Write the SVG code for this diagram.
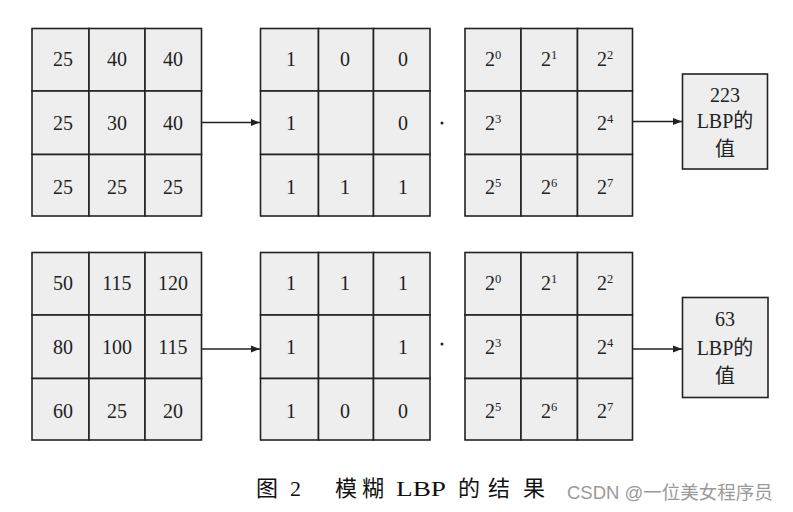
<svg xmlns="http://www.w3.org/2000/svg" width="793" height="512" viewBox="0 0 793 512">
<defs>
<style>
.c{fill:#eeeeee;stroke:#222;stroke-width:1.6}
.t{font-family:"Liberation Serif","Noto Sans CJK SC",serif;font-size:20px;fill:#222;text-anchor:middle}
.s{font-size:12.5px}
.e{stroke:#222;stroke-width:1.5;fill:none}
.cap{font-family:"Liberation Serif","Noto Sans CJK SC",serif;font-size:22px;fill:#111}
.wm{font-family:"Liberation Sans","Noto Sans CJK SC",sans-serif;font-size:18.5px;fill:#9a9a9a}
</style>
<marker id="ah" markerWidth="10" markerHeight="8" refX="9" refY="4" orient="auto" markerUnits="userSpaceOnUse">
<path d="M0,0.5 L9,4 L0,7.5 Z" fill="#222"/>
</marker>
</defs>
<rect width="793" height="512" fill="#fff"/>

<g id="grid-input-1">
<rect class="c" x="32" y="28.5" width="57" height="62.5"/><rect class="c" x="89" y="28.5" width="56" height="62.5"/><rect class="c" x="145" y="28.5" width="56.5" height="62.5"/>
<rect class="c" x="32" y="91" width="57" height="63.5"/><rect class="c" x="89" y="91" width="56" height="63.5"/><rect class="c" x="145" y="91" width="56.5" height="63.5"/>
<rect class="c" x="32" y="154.5" width="57" height="61.5"/><rect class="c" x="89" y="154.5" width="56" height="61.5"/><rect class="c" x="145" y="154.5" width="56.5" height="61.5"/>
<text class="t" x="63" y="66">25</text><text class="t" x="117" y="66">40</text><text class="t" x="173" y="66">40</text>
<text class="t" x="63" y="130">25</text><text class="t" x="117" y="130">30</text><text class="t" x="173" y="130">40</text>
<text class="t" x="63" y="194">25</text><text class="t" x="117" y="194">25</text><text class="t" x="173" y="194">25</text>
</g>

<g id="grid-binary-1">
<rect class="c" x="260.5" y="28.5" width="58" height="62.5"/><rect class="c" x="318.5" y="28.5" width="55" height="62.5"/><rect class="c" x="373.5" y="28.5" width="56.5" height="62.5"/>
<rect class="c" x="260.5" y="91" width="58" height="63.5"/><rect class="c" x="318.5" y="91" width="55" height="63.5"/><rect class="c" x="373.5" y="91" width="56.5" height="63.5"/>
<rect class="c" x="260.5" y="154.5" width="58" height="61.5"/><rect class="c" x="318.5" y="154.5" width="55" height="61.5"/><rect class="c" x="373.5" y="154.5" width="56.5" height="61.5"/>
<text class="t" x="291" y="66">1</text><text class="t" x="345" y="66">0</text><text class="t" x="403" y="66">0</text>
<text class="t" x="291" y="130">1</text><text class="t" x="403" y="130">0</text>
<text class="t" x="291" y="194">1</text><text class="t" x="345" y="194">1</text><text class="t" x="403" y="194">1</text>
</g>

<g id="dot-1"><circle cx="442" cy="123" r="1.5" fill="#222"/></g>

<g id="grid-weights-1">
<rect class="c" x="465" y="28.5" width="56" height="62.5"/><rect class="c" x="521" y="28.5" width="56.5" height="62.5"/><rect class="c" x="577.5" y="28.5" width="55" height="62.5"/>
<rect class="c" x="465" y="91" width="56" height="63.5"/><rect class="c" x="521" y="91" width="56.5" height="63.5"/><rect class="c" x="577.5" y="91" width="55" height="63.5"/>
<rect class="c" x="465" y="154.5" width="56" height="61.5"/><rect class="c" x="521" y="154.5" width="56.5" height="61.5"/><rect class="c" x="577.5" y="154.5" width="55" height="61.5"/>
<text class="t" x="493" y="66">2<tspan class="s" dy="-7">0</tspan></text><text class="t" x="549" y="66">2<tspan class="s" dy="-7">1</tspan></text><text class="t" x="605" y="66">2<tspan class="s" dy="-7">2</tspan></text>
<text class="t" x="493" y="130">2<tspan class="s" dy="-7">3</tspan></text><text class="t" x="605" y="130">2<tspan class="s" dy="-7">4</tspan></text>
<text class="t" x="493" y="194">2<tspan class="s" dy="-7">5</tspan></text><text class="t" x="549" y="194">2<tspan class="s" dy="-7">6</tspan></text><text class="t" x="605" y="194">2<tspan class="s" dy="-7">7</tspan></text>
</g>

<g id="result-1">
<rect class="c" x="682.5" y="74" width="85" height="95"/>
<text class="t" x="725" y="101.5">223</text>
<text class="t" x="725" y="128">LBP的</text>
<text class="t" x="725" y="156">值</text>
</g>

<g id="grid-input-2">
<rect class="c" x="32" y="252.5" width="57" height="62.5"/><rect class="c" x="89" y="252.5" width="56" height="62.5"/><rect class="c" x="145" y="252.5" width="56.5" height="62.5"/>
<rect class="c" x="32" y="315" width="57" height="63.5"/><rect class="c" x="89" y="315" width="56" height="63.5"/><rect class="c" x="145" y="315" width="56.5" height="63.5"/>
<rect class="c" x="32" y="378.5" width="57" height="61.5"/><rect class="c" x="89" y="378.5" width="56" height="61.5"/><rect class="c" x="145" y="378.5" width="56.5" height="61.5"/>
<text class="t" x="63" y="290">50</text><text class="t" x="117" y="290">115</text><text class="t" x="173" y="290">120</text>
<text class="t" x="63" y="354">80</text><text class="t" x="117" y="354">100</text><text class="t" x="173" y="354">115</text>
<text class="t" x="63" y="418">60</text><text class="t" x="117" y="418">25</text><text class="t" x="173" y="418">20</text>
</g>

<g id="grid-binary-2">
<rect class="c" x="260.5" y="252.5" width="58" height="62.5"/><rect class="c" x="318.5" y="252.5" width="55" height="62.5"/><rect class="c" x="373.5" y="252.5" width="56.5" height="62.5"/>
<rect class="c" x="260.5" y="315" width="58" height="63.5"/><rect class="c" x="318.5" y="315" width="55" height="63.5"/><rect class="c" x="373.5" y="315" width="56.5" height="63.5"/>
<rect class="c" x="260.5" y="378.5" width="58" height="61.5"/><rect class="c" x="318.5" y="378.5" width="55" height="61.5"/><rect class="c" x="373.5" y="378.5" width="56.5" height="61.5"/>
<text class="t" x="291" y="290">1</text><text class="t" x="345" y="290">1</text><text class="t" x="403" y="290">1</text>
<text class="t" x="291" y="354">1</text><text class="t" x="403" y="354">1</text>
<text class="t" x="291" y="418">1</text><text class="t" x="345" y="418">0</text><text class="t" x="403" y="418">0</text>
</g>

<g id="dot-2"><circle cx="442" cy="344" r="1.5" fill="#222"/></g>

<g id="grid-weights-2">
<rect class="c" x="465" y="252.5" width="56" height="62.5"/><rect class="c" x="521" y="252.5" width="56.5" height="62.5"/><rect class="c" x="577.5" y="252.5" width="55" height="62.5"/>
<rect class="c" x="465" y="315" width="56" height="63.5"/><rect class="c" x="521" y="315" width="56.5" height="63.5"/><rect class="c" x="577.5" y="315" width="55" height="63.5"/>
<rect class="c" x="465" y="378.5" width="56" height="61.5"/><rect class="c" x="521" y="378.5" width="56.5" height="61.5"/><rect class="c" x="577.5" y="378.5" width="55" height="61.5"/>
<text class="t" x="493" y="290">2<tspan class="s" dy="-7">0</tspan></text><text class="t" x="549" y="290">2<tspan class="s" dy="-7">1</tspan></text><text class="t" x="605" y="290">2<tspan class="s" dy="-7">2</tspan></text>
<text class="t" x="493" y="354">2<tspan class="s" dy="-7">3</tspan></text><text class="t" x="605" y="354">2<tspan class="s" dy="-7">4</tspan></text>
<text class="t" x="493" y="418">2<tspan class="s" dy="-7">5</tspan></text><text class="t" x="549" y="418">2<tspan class="s" dy="-7">6</tspan></text><text class="t" x="605" y="418">2<tspan class="s" dy="-7">7</tspan></text>
</g>

<g id="result-2">
<rect class="c" x="682.5" y="297.5" width="85.5" height="100"/>
<text class="t" x="725" y="326">63</text>
<text class="t" x="725" y="355">LBP的</text>
<text class="t" x="725" y="383">值</text>
</g>

<g id="connectors">
<line class="e" x1="201.5" y1="122.5" x2="260" y2="122.5" marker-end="url(#ah)"/>
<line class="e" x1="632.5" y1="121.5" x2="682" y2="121.5" marker-end="url(#ah)"/>
<line class="e" x1="201.5" y1="349" x2="260" y2="349" marker-end="url(#ah)"/>
<line class="e" x1="632.5" y1="349" x2="682" y2="349" marker-end="url(#ah)"/>
</g>

<g id="caption">
<text class="cap" x="256" y="496">图</text>
<text class="cap" x="290" y="496">2</text>
<text class="cap" x="335" y="496">模</text>
<text class="cap" x="362" y="496">糊</text>
<text class="cap" x="396" y="496" textLength="50" lengthAdjust="spacingAndGlyphs">LBP</text>
<text class="cap" x="458" y="496">的</text>
<text class="cap" x="488" y="496">结</text>
<text class="cap" x="523" y="496">果</text>
<text class="wm" x="567" y="499">CSDN @一位美女程序员</text>
</g>
</svg>
